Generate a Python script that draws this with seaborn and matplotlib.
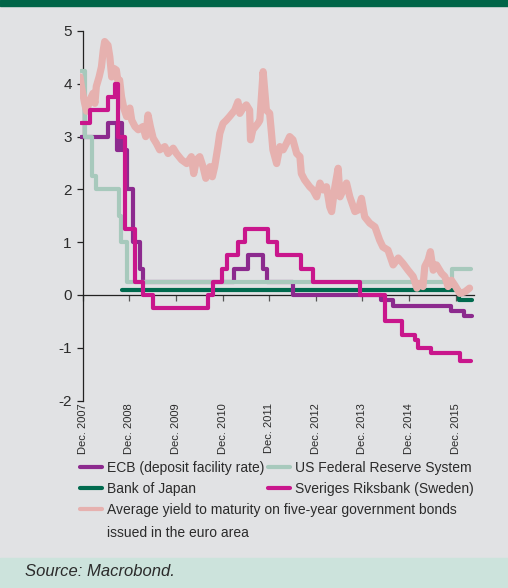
import matplotlib
matplotlib.use('Agg')
import matplotlib.pyplot as plt
from matplotlib import font_manager
from matplotlib.lines import Line2D
from matplotlib.patches import Rectangle
import seaborn as sns

# 政策金利（変更日と水準、年の小数表記）
ecb_x = [2007.97, 2008.54, 2008.74, 2008.79, 2008.84, 2008.95, 2009.08, 2009.22, 2009.29,
         2011.24, 2011.55, 2011.87, 2011.96, 2012.51, 2014.41, 2014.66, 2015.91, 2016.18, 2016.36]
ecb_y = [3.00, 3.25, 2.75, 3.25, 2.75, 2.00, 1.00, 0.50, 0.25,
         0.50, 0.75, 0.50, 0.25, 0.00, -0.10, -0.20, -0.30, -0.40, -0.40]

fed_x = [2007.97, 2008.04, 2008.19, 2008.29, 2008.77, 2008.82, 2008.95, 2015.93, 2016.34]
fed_y = [4.25, 3.00, 2.25, 2.00, 1.50, 1.00, 0.25, 0.50, 0.50]

boj_x = [2008.84, 2016.08, 2016.36]
boj_y = [0.10, -0.10, -0.10]

swe_x = [2007.97, 2008.15, 2008.55, 2008.70, 2008.76, 2008.90, 2009.12, 2009.29, 2009.51,
         2010.68, 2010.80, 2010.98, 2011.10, 2011.33, 2011.48, 2011.98, 2012.16, 2012.69,
         2012.94, 2013.94, 2014.48, 2014.84, 2015.12, 2015.20, 2015.48, 2016.10, 2016.34]
swe_y = [3.25, 3.50, 3.75, 4.00, 3.00, 1.25, 0.25, 0.00, -0.25,
         0.00, 0.25, 0.50, 0.75, 1.00, 1.25, 1.00, 0.75, 0.50,
         0.25, 0.00, -0.50, -0.75, -0.85, -1.00, -1.10, -1.25, -1.25]

# ユーロ圏5年国債の平均利回り
bond_x = [2007.94, 2007.97, 2008.04, 2008.08, 2008.15, 2008.22, 2008.26, 2008.29, 2008.35,
          2008.40, 2008.44, 2008.47, 2008.54, 2008.58, 2008.62, 2008.67, 2008.72, 2008.76,
          2008.79, 2008.83, 2008.88, 2008.94, 2009.01, 2009.05, 2009.12, 2009.19, 2009.29,
          2009.35, 2009.40, 2009.45, 2009.51, 2009.58, 2009.65, 2009.76, 2009.83, 2009.94,
          2010.01, 2010.12, 2010.23, 2010.33, 2010.38, 2010.44, 2010.51, 2010.58, 2010.64,
          2010.73, 2010.78, 2010.83, 2010.90, 2010.94, 2011.01, 2011.08, 2011.15, 2011.26,
          2011.33, 2011.37, 2011.44, 2011.51, 2011.58, 2011.60, 2011.65, 2011.76, 2011.80,
          2011.87, 2011.94, 2012.01, 2012.05, 2012.08, 2012.16, 2012.23, 2012.30, 2012.37,
          2012.44, 2012.51, 2012.59, 2012.66, 2012.69, 2012.76, 2012.87, 2012.94, 2013.02,
          2013.09, 2013.16, 2013.23, 2013.30, 2013.34, 2013.41, 2013.48, 2013.52, 2013.59,
          2013.66, 2013.73, 2013.84, 2013.91, 2013.98, 2014.05, 2014.16, 2014.27, 2014.37,
          2014.44, 2014.55, 2014.66, 2014.77, 2014.87, 2014.98, 2015.09, 2015.17, 2015.23,
          2015.30, 2015.34, 2015.41, 2015.46, 2015.52, 2015.59, 2015.70, 2015.77, 2015.84,
          2015.91, 2015.98, 2016.09, 2016.20, 2016.30]
bond_y = [4.13, 3.95, 3.63, 3.48, 3.69, 3.82, 3.63, 3.95, 4.13,
          4.32, 4.64, 4.80, 4.73, 4.51, 4.13, 4.29, 4.26, 4.01,
          4.07, 3.76, 3.54, 3.38, 3.54, 3.31, 3.19, 3.13, 3.19,
          3.00, 3.41, 3.19, 2.97, 2.87, 2.75, 2.81, 2.68, 2.78,
          2.68, 2.56, 2.49, 2.62, 2.30, 2.56, 2.62, 2.43, 2.21,
          2.43, 2.24, 2.43, 2.81, 3.06, 3.25, 3.31, 3.38, 3.50,
          3.66, 3.44, 3.54, 3.60, 3.50, 2.94, 3.13, 3.25, 3.31,
          4.23, 3.50, 3.44, 3.06, 2.75, 2.49, 2.81, 2.75, 2.87,
          3.00, 2.94, 2.68, 2.62, 2.30, 2.18, 2.05, 1.99, 1.86,
          2.12, 1.99, 2.05, 1.67, 1.58, 2.05, 2.40, 1.86, 1.99,
          2.12, 1.86, 1.58, 1.61, 1.83, 1.48, 1.36, 1.29, 1.04,
          0.91, 0.85, 0.57, 0.70, 0.60, 0.47, 0.35, 0.13, 0.22,
          0.16, 0.54, 0.66, 0.82, 0.47, 0.57, 0.41, 0.35, 0.16,
          0.28, 0.19, 0.03, 0.06, 0.13]

tick_years = [2008, 2009, 2010, 2011, 2012, 2013, 2014, 2015, 2016]
tick_labels = ['Dec. 2007', 'Dec. 2008', 'Dec. 2009', 'Dec. 2010', 'Dec. 2011',
               'Dec. 2012', 'Dec. 2013', 'Dec. 2014', 'Dec. 2015']
y_ticks = [-2, -1, 0, 1, 2, 3, 4, 5]

labels = ['ECB (deposit facility rate)', 'US Federal Reserve System', 'Bank of Japan',
          'Sveriges Riksbank (Sweden)',
          'Average yield to maturity on five-year government bonds']
colors = {'ecb': '#8c2a8e', 'fed': '#a7c9bc', 'boj': '#006a4e',
          'swe': '#c9168c', 'bond': '#e6b1af'}

BG = '#e1e2e4'
TEXT = '#2b2b2b'

sns.set_style('ticks')
names = {f.name for f in font_manager.fontManager.ttflist}
narrow = 'Liberation Sans Narrow' if 'Liberation Sans Narrow' in names else 'Liberation Sans'
plt.rcParams['font.family'] = [narrow, 'DejaVu Sans']
plt.rcParams['axes.unicode_minus'] = False

fig = plt.figure(figsize=(5.08, 5.88), dpi=100, facecolor=BG)
ax = fig.add_axes([80 / 508, 1 - 400.6 / 588, 394.2 / 508, 369.6 / 588])
ax.set_facecolor(BG)

# 帯（上部の濃緑、下部の薄緑）
fig.patches.append(Rectangle((0, 1 - 6 / 588), 1, 6 / 588, transform=fig.transFigure,
                             color='#006548', zorder=0))
fig.patches.append(Rectangle((0, 0), 1, 30 / 588, transform=fig.transFigure,
                             color='#cce3dc', zorder=0))

step_kw = dict(drawstyle='steps-post', estimator=None, sort=False, linewidth=3, ax=ax)
sns.lineplot(x=boj_x, y=boj_y, color=colors['boj'], zorder=2, **step_kw)
sns.lineplot(x=ecb_x, y=ecb_y, color=colors['ecb'], zorder=3, **step_kw)
sns.lineplot(x=fed_x, y=fed_y, color=colors['fed'], zorder=4, **step_kw)
sns.lineplot(x=bond_x, y=bond_y, color=colors['bond'], linewidth=5.2, estimator=None,
             sort=False, ax=ax, zorder=5, solid_joinstyle='round', solid_capstyle='round')
sns.lineplot(x=swe_x, y=swe_y, color=colors['swe'], zorder=6, **step_kw)

ax.set_xlim(2007.94, 2016.40)
ax.set_ylim(-2, 5)
ax.set_yticks(y_ticks)
ax.set_yticklabels([str(v) for v in y_ticks])

# 軸：左は2007年12月、横軸線はゼロの位置
for s in ['top', 'right']:
    ax.spines[s].set_visible(False)
ax.spines['left'].set_position(('data', 2008.0))
ax.spines['bottom'].set_position(('data', 0))
ax.spines['bottom'].set_bounds(2008.0, 2016.40)
for s in ['left', 'bottom']:
    ax.spines[s].set_color('#222222')
    ax.spines[s].set_linewidth(0.9)
ax.set_xticks(tick_years)
ax.tick_params(axis='x', length=4, width=0.9, color='#555555', labelbottom=False)
ax.tick_params(axis='y', length=4, width=0.9, color='#222222', pad=4,
               labelsize=11, labelcolor=TEXT)

sec = ax.secondary_xaxis('bottom')
sec.set_xticks(tick_years, tick_labels)
sec.tick_params(length=0, pad=2, labelsize=8, labelcolor=TEXT, labelrotation=90)
sec.spines['bottom'].set_visible(False)

ax.set_xlabel('')
ax.set_ylabel('')

def handle(c):
    return Line2D([], [], color=c, linewidth=3)

leg_kw = dict(frameon=False, loc='upper left', fontsize=10, handlelength=1.6,
              handletextpad=0.36, labelspacing=0.5, borderpad=0, borderaxespad=0,
              labelcolor=TEXT, bbox_transform=fig.transFigure)
fig.legend([handle(colors['ecb']), handle(colors['boj'])], [labels[0], labels[2]],
           bbox_to_anchor=(80 / 508, 1 - 461 / 588), **leg_kw)
fig.legend([handle(colors['fed']), handle(colors['swe'])], [labels[1], labels[3]],
           bbox_to_anchor=(267.5 / 508, 1 - 461 / 588), **leg_kw)
fig.legend([handle(colors['bond'])], [labels[4]],
           bbox_to_anchor=(80 / 508, 1 - 503 / 588), **leg_kw)
fig.text(107 / 508, 1 - 533 / 588, 'issued in the euro area', fontsize=10, color=TEXT,
         va='center', ha='left')

fig.text(25 / 508, 1 - 571 / 588, 'Source: Macrobond.', fontsize=12, style='italic',
         color=TEXT, va='center', ha='left')

fig.savefig('out.png', dpi=100, facecolor=BG)
